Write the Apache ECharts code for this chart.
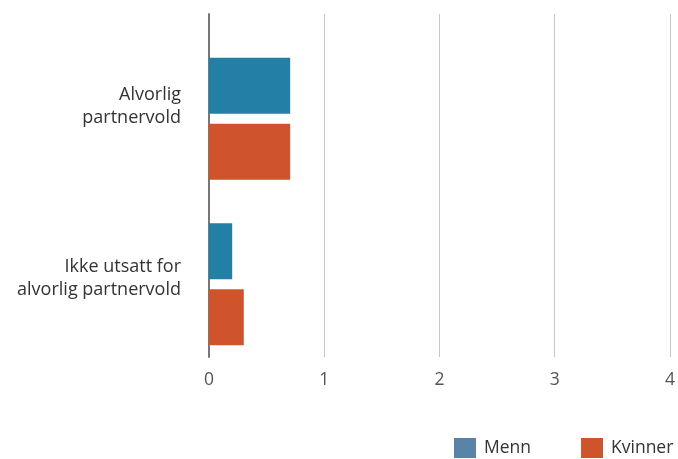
<!DOCTYPE html>
<html><head><meta charset="utf-8">
<script src="https://cdn.jsdelivr.net/npm/echarts@6/dist/echarts.min.js"></script>
<style>html,body{margin:0;padding:0;background:#fff}#c{width:678px;height:459px}</style>
</head><body><div id="c"></div>
<script>
var categories = ["Alvorlig\npartnervold", "Ikke utsatt for\nalvorlig partnervold"];
var seriesNames = ["Menn", "Kvinner"];
var menn = [0.7, 0.2];
var kvinner = [0.7, 0.3];
var xTicks = [0, 1, 2, 3, 4];

var FONT = "'Open Sans', 'Noto Sans', sans-serif";
var chart = echarts.init(document.getElementById('c'), null, {renderer: 'canvas'});
chart.setOption({
  animation: false,
  textStyle: {fontFamily: FONT},
  grid: [
    {left: 209, right: 5, top: 14, bottom: 102},
    {left: 209, right: 5, top: 36, bottom: 92},
    {left: 209, right: 5, top: 20, bottom: 95}
  ],
  legend: {
    left: 454, top: 438, padding: 0, itemWidth: 22, itemHeight: 20, itemGap: 50,
    icon: 'rect',
    textStyle: {fontSize: 17.5, color: '#333', fontFamily: FONT, padding: [0, 0, 0, 3]},
    data: [
      {name: seriesNames[0], itemStyle: {color: '#5a83a8'}},
      {name: seriesNames[1], itemStyle: {color: '#d0542b'}}
    ]
  },
  xAxis: [
    {gridIndex: 0, type: 'value', min: xTicks[0], max: xTicks[xTicks.length-1], interval: 1,
     axisLine: {show: false}, axisTick: {show: false},
     splitLine: {lineStyle: {color: '#c8c8c8', width: 1}},
     axisLabel: {fontSize: 17.5, color: '#555', margin: 14, fontFamily: FONT}},
    {gridIndex: 1, type: 'value', min: xTicks[0], max: xTicks[xTicks.length-1], interval: 1, show: false},
    {gridIndex: 2, type: 'value', min: xTicks[0], max: xTicks[xTicks.length-1], interval: 1, show: false}
  ],
  yAxis: [
    {gridIndex: 0, type: 'category', data: categories, inverse: true,
     axisLine: {show: true, lineStyle: {color: '#777', width: 2}},
     axisTick: {show: false}, axisLabel: {show: false}},
    {gridIndex: 1, type: 'category', data: categories, inverse: true, show: false},
    {gridIndex: 2, type: 'category', data: categories, inverse: true,
     axisLine: {show: false}, axisTick: {show: false},
     axisLabel: {fontSize: 18, color: '#333', margin: 28, lineHeight: 23, align: 'right', fontFamily: FONT}}
  ],
  series: [
    {name: seriesNames[0], type: 'bar', xAxisIndex: 1, yAxisIndex: 1, data: menn,
     barWidth: 56, barGap: '18%', itemStyle: {color: '#237fa5'}},
    {name: seriesNames[1], type: 'bar', xAxisIndex: 1, yAxisIndex: 1, data: kvinner,
     barWidth: 56, barGap: '18%', itemStyle: {color: '#d0542b'}}
  ]
});
</script></body></html>
